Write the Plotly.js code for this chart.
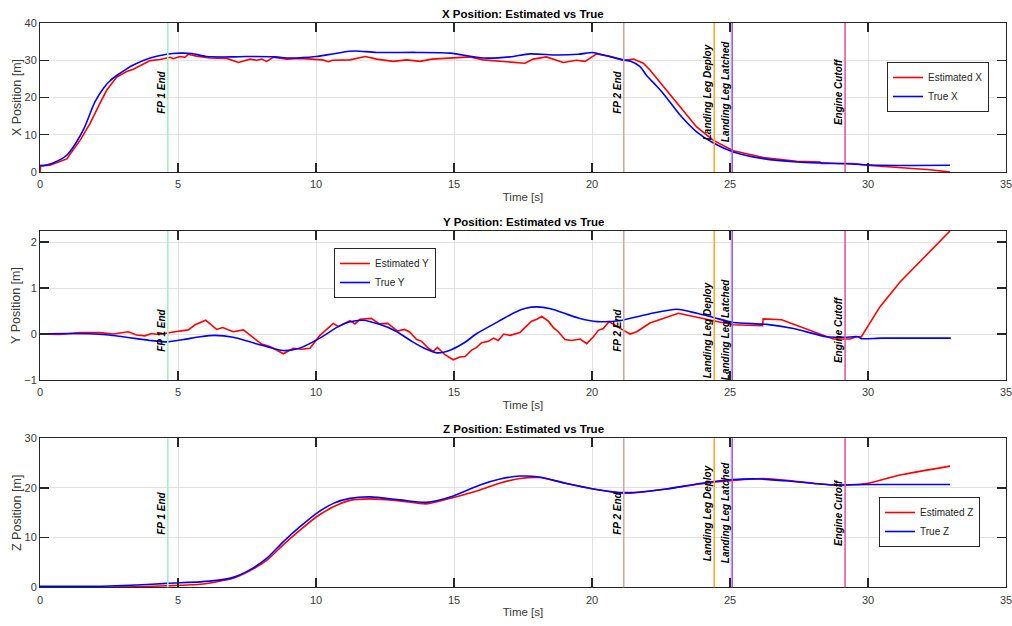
<!DOCTYPE html>
<html>
<head>
<meta charset="utf-8">
<script src="https://cdn.plot.ly/plotly-3.0.1.min.js"></script>
<style>html,body{margin:0;padding:0;background:#fff;}#chart{width:1012px;height:626px;}</style>
</head>
<body>
<div id="chart"></div>
<script>
// ---------- DATA ----------
const tTrueX = [0,0.24,0.6,0.97,1.3,1.6,1.99,2.3,2.54,2.78,3.1,3.38,3.99,4.59,5.07,5.5,6.04,6.97,7.46,8.54,9.03,10.0,10.6,11.2,11.47,12.2,13.65,14.86,16.06,17.03,17.75,18.72,19.5,20.01,20.17,21.14,21.4,21.74,21.98,22.3,22.58,23.19,23.79,24.4,25.12,26.21,27.42,28.5,29.23,30.43,32.97];
const trueX  = [1.7,1.9,2.8,4.5,7.8,11.8,18.8,22.5,24.5,25.9,27.5,28.7,30.6,31.6,31.9,31.8,31.0,30.9,31.0,30.9,30.6,31.0,31.7,32.4,32.5,32.1,32.1,31.9,30.6,30.9,31.7,31.4,31.6,32.1,31.9,30.1,29.7,28.3,25.9,23.4,21.1,15.3,10.8,7.8,5.4,3.6,2.7,2.4,2.2,1.8,1.8];
const tEstX = [0,0.02,0.36,0.97,1.45,1.81,2.17,2.42,2.78,3.14,3.38,3.74,3.99,4.35,4.71,4.83,5.07,5.25,5.37,5.67,6.16,6.76,7.19,7.61,7.85,8.03,8.21,8.45,8.94,9.42,10.0,10.24,10.45,10.6,11.23,11.78,12.2,12.8,13.29,13.77,14.2,14.86,15.58,16.06,16.79,17.57,17.87,18.35,18.96,19.44,19.75,20.17,20.65,21.14,21.5,21.86,22.1,22.58,23.19,23.79,24.4,25.12,26.21,27.42,28.26,28.3,29.47,29.95,31.04,32.25,32.97];
const estX  = [0,1.6,1.8,3.5,8.5,13.0,18.4,22.0,25.5,27.0,27.6,29.0,29.9,30.2,30.8,30.4,31.0,30.8,31.6,31.1,30.6,30.5,29.4,30.3,30.0,30.3,29.7,30.8,30.3,30.5,30.3,30.1,29.6,30.0,30.1,31.0,30.3,29.7,30.1,29.7,30.3,30.6,30.9,30.1,29.7,29.2,30.3,30.9,29.4,30.0,29.7,31.7,31.0,29.95,30.3,29.2,27.4,22.9,17.5,12.1,8.5,5.7,3.9,2.9,2.7,2.3,2.3,1.8,1.2,0.6,0.0];

const tTrueY = [0,1,2,2.5,3,3.5,4,4.6,5.2,5.8,6.34,7,7.6,8.2,8.8,9.4,10.14,10.8,11.2,11.7,12.3,12.9,13.5,14.0,14.4,14.9,15.4,15.8,16.6,17.2,17.6,18.0,18.5,19.0,19.5,20.2,21.0,22.1,23.07,23.8,24.4,25.12,26.33,27.3,28.5,29.16,29.64,29.76,30.5,33.0];
const trueY  = [0,0.01,0,-0.02,-0.06,-0.1,-0.14,-0.17,-0.12,-0.06,-0.03,-0.07,-0.17,-0.27,-0.36,-0.31,-0.09,0.16,0.26,0.30,0.21,0.06,-0.17,-0.33,-0.41,-0.34,-0.18,0.0,0.27,0.47,0.56,0.59,0.55,0.45,0.35,0.27,0.29,0.44,0.54,0.45,0.36,0.25,0.21,0.12,-0.06,-0.07,-0.06,-0.1,-0.09,-0.09];
const tEstY = [0,0.7,1.45,2.17,2.66,3.2,3.5,3.8,4.04,4.29,4.53,4.77,5.37,5.62,6.0,6.4,6.62,7.0,7.37,7.67,8.03,8.33,8.57,8.82,9.18,9.48,9.78,10.14,10.5,10.63,10.81,11.23,11.41,11.59,12.0,12.3,12.6,12.95,13.2,13.38,13.65,13.83,14.07,14.25,14.4,14.67,14.97,15.21,15.4,15.64,15.82,16.0,16.25,16.43,16.6,16.8,17.03,17.39,17.57,17.81,18.0,18.18,18.42,18.6,18.78,19.02,19.26,19.57,19.81,20.05,20.23,20.41,20.62,20.84,21.08,21.38,21.62,22.1,23.13,24.4,25.12,26.18,26.2,26.87,27.54,28.26,28.74,29.35,29.58,29.76,30.43,31.16,32.0,32.97];
const estY  = [0,-0.01,0.03,0.03,0,0.05,-0.02,-0.04,0.01,-0.01,0.01,0.04,0.09,0.2,0.3,0.1,0.14,0.05,0.09,-0.06,-0.22,-0.27,-0.35,-0.43,-0.31,-0.33,-0.31,-0.03,0.16,0.23,0.16,0.29,0.22,0.32,0.34,0.22,0.23,0.065,0.1,0.05,-0.12,-0.16,-0.31,-0.38,-0.29,-0.45,-0.56,-0.5,-0.49,-0.35,-0.29,-0.19,-0.16,-0.09,-0.14,0.0,-0.03,0.03,0.14,0.28,0.32,0.38,0.28,0.14,0.05,-0.12,-0.14,-0.11,-0.21,-0.06,0.08,0.12,0.27,0.18,0.1,0.0,0.05,0.24,0.45,0.29,0.2,0.18,0.33,0.31,0.16,0.0,-0.11,-0.11,-0.06,-0.06,0.59,1.13,1.65,2.24];

const tTrueZ = [0,2,2.5,3.5,4.59,5.8,6.4,7.0,7.6,8.21,8.82,9.42,10.02,10.63,11.23,11.96,13.05,14.0,14.98,15.94,16.67,17.39,18.1,19.08,20.05,21.01,21.5,22.7,23.91,25.12,26.09,27.3,28.74,29.95,32.97];
const trueZ  = [0.2,0.2,0.25,0.45,0.8,1.1,1.4,2.0,3.5,5.8,9.2,12.2,14.9,16.9,17.9,18.2,17.6,17.1,18.4,20.6,21.8,22.4,22.2,20.9,19.8,19.1,19.1,19.8,20.9,21.7,21.8,21.3,20.6,20.7,20.7];
const tEstZ = [0,2.17,3,4.59,5.8,7.0,7.6,8.21,8.82,9.42,10.02,10.63,11.23,11.96,13.05,14.0,14.98,15.94,16.67,17.39,18.1,19.08,20.05,21.01,21.5,22.7,23.91,25.12,26.21,27.3,28.74,29.95,31.16,32.97];
const estZ  = [0.05,0.0,0.05,0.3,0.6,1.8,3.3,5.4,8.6,11.5,14.2,16.2,17.5,17.8,17.4,16.8,18.1,19.6,21.0,21.9,22.1,20.9,19.8,19.0,19.0,19.8,20.8,21.5,21.9,21.4,20.6,20.9,22.6,24.4];

const eventTimes  = [4.63, 21.15, 24.43, 25.08, 29.17];
const eventLabels = ['FP 1 End', 'FP 2 End', 'Landing Leg Deploy', 'Landing Leg Latched', 'Engine Cutoff'];
const eventColors = ['#a6efc8', '#c9aba3', '#ffa726', '#9a5fe0', '#e05aa3'];

const titles = ['X Position: Estimated vs True', 'Y Position: Estimated vs True', 'Z Position: Estimated vs True'];
const yTitles = ['X Position [m]', 'Y Position [m]', 'Z Position [m]'];
const xTickVals = [0,5,10,15,20,25,30,35];
const yTickSets = [[0,10,20,30,40],[-1,0,1,2],[0,10,20,30]];
const yRanges = [[0,40],[-1,2.24],[0,30]];

// ---------- LAYOUT ----------
const W = 1012, H = 626;
const font = 'Liberation Sans, Arial, Helvetica, sans-serif';
const ink = '#262626';
const xDom = [40/W, 1006/W];
const panels = [ {top:23, bot:172}, {top:231, bot:380}, {top:438.3, bot:587.3} ];
const labelCenters = [92, 330, 513];

const traces = [];
const series = [
  [tEstX, estX, tTrueX, trueX, 'X', 'linear'],
  [tEstY, estY, tTrueY, trueY, 'Y', 'linear'],
  [tEstZ, estZ, tTrueZ, trueZ, 'Z', 'spline']
];
series.forEach((s, i) => {
  const ax = i === 0 ? '' : String(i+1);
  const leg = i === 0 ? 'legend' : 'legend' + (i+1);
  traces.push({x: s[0], y: s[1], type: 'scatter', mode: 'lines', name: 'Estimated ' + s[4],
    line: {color: '#ff0000', width: 1.6, shape: s[5], smoothing: 0.6}, xaxis: 'x'+ax, yaxis: 'y'+ax, legend: leg});
  traces.push({x: s[2], y: s[3], type: 'scatter', mode: 'lines', name: 'True ' + s[4],
    line: {color: '#0000ff', width: 1.6, shape: 'spline', smoothing: 0.7}, xaxis: 'x'+ax, yaxis: 'y'+ax, legend: leg});
});

const layout = {
  width: W, height: H,
  margin: {l:0, r:0, t:0, b:0},
  paper_bgcolor: '#ffffff', plot_bgcolor: '#ffffff',
  font: {family: font, color: ink, size: 10},
  shapes: [], annotations: []
};

const legendPos = [ {x:887/W, y:1-62/H}, {x:334/W, y:1-248/H}, {x:879/W, y:1-497/H} ];

panels.forEach((p, i) => {
  const ax = i === 0 ? '' : String(i+1);
  const yDom = [1 - p.bot/H, 1 - p.top/H];
  layout['xaxis'+ax] = {
    domain: xDom, range: [0,35], anchor: 'y'+ax, tickvals: xTickVals,
    ticks: 'inside', ticklen: 9, tickwidth: 1.2, tickcolor: ink, mirror: 'ticks',
    showline: true, linecolor: ink, linewidth: 1,
    showgrid: true, gridcolor: '#e2e2e2', gridwidth: 1, zeroline: false,
    tickfont: {family: font, size: 11, color: '#3a3a3a'}, ticklabelstandoff: 2,
    ticklabeloverflow: 'allow',
    title: {text: 'Time [s]', font: {family: font, size: 11.5, color: '#3a3a3a'}, standoff: 3},
    automargin: false, fixedrange: true
  };
  layout['yaxis'+ax] = {
    domain: yDom, range: yRanges[i], anchor: 'x'+ax, tickvals: yTickSets[i],
    ticks: 'inside', ticklen: 9, tickwidth: 1.2, tickcolor: ink, mirror: 'ticks',
    showline: true, linecolor: ink, linewidth: 1,
    showgrid: true, gridcolor: '#e2e2e2', gridwidth: 1, zeroline: false,
    tickfont: {family: font, size: 11, color: '#3a3a3a'},
    ticklabeloverflow: 'allow',
    title: {text: yTitles[i], font: {family: font, size: 12.5, color: '#3a3a3a'}, standoff: 0},
    automargin: false, fixedrange: true
  };
  const legKey = i === 0 ? 'legend' : 'legend' + (i+1);
  layout[legKey] = {
    x: legendPos[i].x, y: legendPos[i].y, xanchor: 'left', yanchor: 'top',
    bgcolor: '#ffffff', bordercolor: ink, borderwidth: 1,
    font: {family: font, size: 10, color: ink}, itemwidth: 30, tracegroupgap: 0
  };
  layout.annotations.push({
    text: '<b>' + titles[i] + '</b>', xref: 'paper', yref: 'paper',
    x: 523/W, y: 1 - (p.top - 9)/H, xanchor: 'center', yanchor: 'middle',
    showarrow: false, font: {family: font, size: 11.5, color: '#000000'}
  });
  eventTimes.forEach((t, k) => {
    layout.shapes.push({
      type: 'line', xref: 'x'+ax, yref: 'y'+ax+' domain', x0: t, x1: t, y0: 0, y1: 1,
      line: {color: eventColors[k], width: 1.6}
    });
    layout.annotations.push({
      text: '<b><i>' + eventLabels[k] + '</i></b>', xref: 'x'+ax, yref: 'paper',
      x: t, y: 1 - labelCenters[i]/H, xanchor: 'right', yanchor: 'middle', xshift: -0.5,
      textangle: -90, showarrow: false, borderpad: 0,
      font: {family: font, size: 10, color: '#000000'}
    });
  });
});

Plotly.newPlot('chart', traces, layout, {staticPlot: true, displayModeBar: false});
</script>
</body>
</html>
